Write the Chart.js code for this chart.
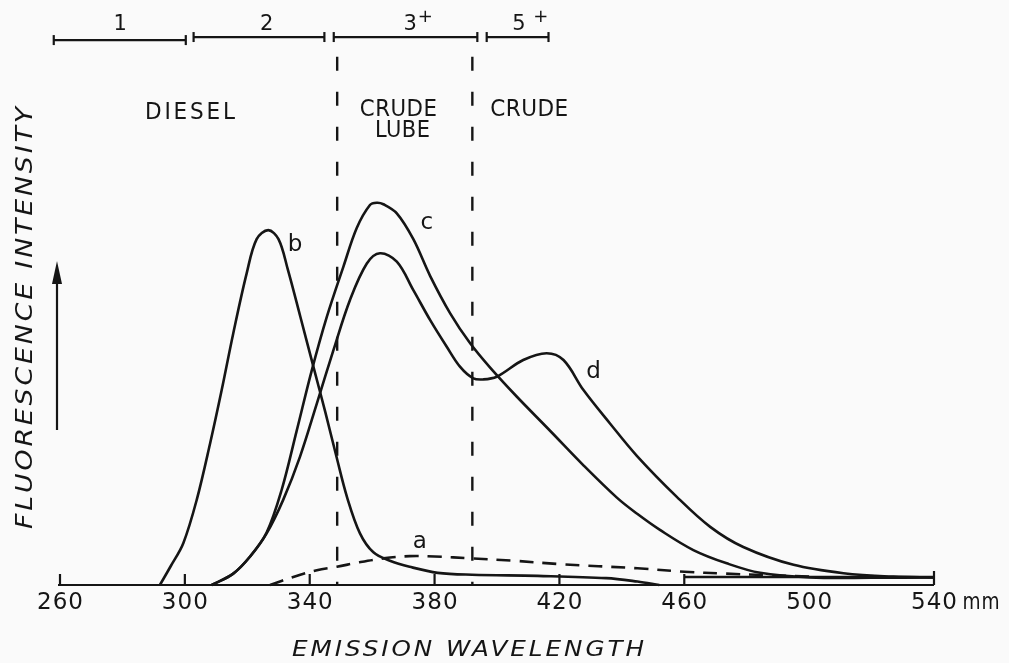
<!DOCTYPE html>
<html>
<head>
<meta charset="utf-8">
<title>Fluorescence emission spectra</title>
<script src="https://cdn.jsdelivr.net/npm/chart.js@4.4.1/dist/chart.umd.min.js"></script>
<style>
  html, body { margin: 0; padding: 0; background: #fafafa; }
  #wrap { width: 1009px; height: 663px; }
</style>
</head>
<body>
<div id="wrap"><canvas id="spectra" width="1009" height="663"></canvas></div>
<script>
// emission wavelength (nm) / relative intensity for each trace
const waveA = [327.3, 335, 342.3, 348.7, 356, 363.6, 372, 380, 392, 405, 420, 445, 460, 473, 486, 500];
const intA  = [0, 2.2, 3.9, 4.8, 6, 7, 7.6, 7.5, 7, 6.4, 5.5, 4.4, 3.5, 3.0, 2.6, 2.2];

const waveB = [292, 295.5, 299.5, 303.8, 308.1, 311.8, 315.5, 319.8, 323, 326.7, 330, 333, 337, 341.2, 345, 348.5, 352, 356.1, 360.4, 365.7, 372, 381, 392, 413, 435, 445, 452];
const intB  = [0, 5, 11, 22.4, 37.3, 51.3, 66.2, 82, 91, 93.4, 91, 83, 70.6, 57.4, 45.5, 34, 23, 13.6, 8.6, 6.4, 4.8, 3.2, 2.7, 2.4, 1.8, 0.9, 0];

const waveC = [308.6, 315.5, 320.9, 326.2, 331, 335.8, 340.6, 345.5, 350.8, 355.1, 359.3, 361.5, 363.6, 367.9, 373.2, 378.6, 385, 391.4, 397.8, 406.3, 417, 427.7, 438.4, 444.8, 452.2, 462.9, 473.6, 484.3, 500.3, 520, 540];
const intC  = [0, 3, 7.5, 13.8, 25, 40.5, 56.3, 70.6, 83.8, 94, 100, 100.6, 100.2, 97.8, 91, 81.3, 71.5, 63.6, 57.2, 49.6, 40.6, 31.5, 23, 18.8, 14.5, 9.2, 5.7, 3.2, 2, 1.9, 2];

const waveD = [308.6, 315.5, 320.9, 326.2, 331.5, 336.9, 342.3, 347.6, 352.9, 358.3, 362.5, 367.9, 373.2, 378.6, 383.9, 388.2, 392.4, 395.6, 399.9, 408.4, 415.9, 421.3, 427.7, 436.2, 444.8, 457.6, 468.3, 478.9, 495, 511, 527, 540];
const intD  = [0, 3, 7.5, 13.6, 22.4, 33.8, 47.8, 61.8, 75, 84.6, 87.3, 85.1, 77.6, 69.7, 62.7, 57.4, 54.4, 54.1, 54.8, 59.2, 61, 59.2, 51.3, 42.5, 34, 23.2, 15.3, 10, 5.3, 3.1, 2.2, 2];

// instrument baseline under the long-wave tails
const waveBase = [460, 540];
const intBase  = [2.1, 2.1];

// product class boundaries (dashed verticals)
const dividers = [348.8, 392.1];

// aromatic ring-number ranges along the top
const ringStart = [258, 302.8, 347.7, 396.7];
const ringEnd   = [300.3, 344.7, 393.7, 416.5];
const ringLevel = [143.4, 144.2, 144.2, 144.2];
const ringNum   = ['1', '2', '3', '5 '];
const ringSup   = ['', '', '+', '+'];

// x axis ticks
const tickValues = [260, 300, 340, 380, 420, 460, 500, 540];
const tickLabels = ['260', '300', '340', '380', '420', '460', '500', '540'];

const INK = '#151515';
const FONT = '"DejaVu Sans", "Liberation Sans", sans-serif';

function pts(xs, ys) {
  return xs.map((x, i) => ({ x: x, y: ys[i] }));
}

function curve(label, xs, ys, dash) {
  return {
    label: label,
    data: pts(xs, ys),
    borderColor: INK,
    borderWidth: 2.6,
    borderDash: dash || [],
    pointRadius: 0,
    fill: false,
    tension: 0.35,
    clip: false
  };
}

const datasets = [
  curve('a', waveA, intA, [14, 9]),
  curve('b', waveB, intB),
  curve('c', waveC, intC),
  curve('d', waveD, intD),
  curve('baseline', waveBase, intBase)
];

// drawn top-down so the dash pattern starts at the upper end
dividers.forEach(function(w) {
  datasets.push({
    label: 'divider',
    data: [{ x: w, y: 139 }, { x: w, y: 0 }],
    borderColor: INK,
    borderWidth: 2.4,
    borderDash: [14, 21],
    pointRadius: 0,
    tension: 0,
    clip: false
  });
});

ringStart.forEach(function(s, i) {
  datasets.push({
    label: 'ring ' + ringNum[i],
    data: [{ x: s, y: ringLevel[i] }, { x: ringEnd[i], y: ringLevel[i] }],
    borderColor: INK,
    borderWidth: 2.2,
    pointStyle: 'line',
    rotation: 90,
    pointRadius: 5,
    pointBorderColor: INK,
    pointBorderWidth: 2.2,
    tension: 0,
    clip: false
  });
});

// text placed in data coordinates
const notes = [
  { text: 'DIESEL', x: 301.65, y: 124.1, width: 90, spacing: 3 },
  { text: 'CRUDE', x: 368.4, y: 125.1, width: 77, spacing: 0.5 },
  { text: 'LUBE', x: 369.7, y: 119.4, width: 55, spacing: 0.5 },
  { text: 'CRUDE', x: 410.3, y: 125.1, width: 78, spacing: 0.5 }
];
const curveTags = [
  { text: 'a', x: 375.3, y: 11.4 },
  { text: 'b', x: 335.3, y: 89.5 },
  { text: 'c', x: 377.5, y: 95.2 },
  { text: 'd', x: 430.9, y: 56.1 }
];
const ringTagX = [279.3, 326.2, 374.6, 410.5];

// draw text with some tracking, then squeeze/stretch it to the given width
function spreadText(ctx, text, cx, cy, width, spacing) {
  ctx.save();
  ctx.letterSpacing = spacing + 'px';
  ctx.textAlign = 'left';
  const w = ctx.measureText(text).width - spacing;
  ctx.translate(cx - width / 2, cy);
  ctx.scale(width / w, 1);
  ctx.fillText(text, 0, 0);
  ctx.restore();
}

const decor = {
  id: 'decor',
  beforeDraw(chart) {
    const ctx = chart.ctx;
    ctx.save();
    ctx.fillStyle = '#fafafa';
    ctx.fillRect(0, 0, chart.width, chart.height);
    ctx.restore();
  },
  afterDatasetsDraw(chart) {
    const ctx = chart.ctx;
    const xs = chart.scales.x;
    const ys = chart.scales.y;
    const y0 = ys.getPixelForValue(0);

    ctx.save();
    ctx.strokeStyle = INK;
    ctx.fillStyle = INK;
    ctx.lineWidth = 2.2;

    // axis line and upward ticks
    ctx.beginPath();
    ctx.moveTo(xs.getPixelForValue(260) - 2, y0);
    ctx.lineTo(xs.getPixelForValue(540), y0);
    tickValues.forEach(function(v) {
      if (v === 500) return;
      const px = xs.getPixelForValue(v);
      ctx.moveTo(px, y0);
      ctx.lineTo(px, y0 - (v === 540 ? 14 : 11));
    });
    ctx.stroke();

    // tick labels
    ctx.font = '23px ' + FONT;
    ctx.textBaseline = 'middle';
    tickLabels.forEach(function(t, i) {
      const px = xs.getPixelForValue(tickValues[i]);
      spreadText(ctx, t, px, 603, 46, 1);
    });
    spreadText(ctx, 'mm', xs.getPixelForValue(540) + 47, 603, 37, 1);

    // axis titles
    ctx.font = 'italic 21px ' + FONT;
    spreadText(ctx, 'EMISSION WAVELENGTH', 468, 651, 352, 2.5);
    ctx.save();
    ctx.translate(26, 318);
    ctx.rotate(-Math.PI / 2);
    ctx.font = 'italic 23px ' + FONT;
    spreadText(ctx, 'FLUORESCENCE INTENSITY', 0, 0, 422, 2.5);
    ctx.restore();

    // intensity arrow
    ctx.beginPath();
    ctx.moveTo(57, 430);
    ctx.lineTo(57, 276);
    ctx.stroke();
    ctx.beginPath();
    ctx.moveTo(57, 261);
    ctx.lineTo(52, 284);
    ctx.lineTo(62, 284);
    ctx.closePath();
    ctx.fill();

    // class names
    ctx.font = '23px ' + FONT;
    notes.forEach(function(n) {
      spreadText(ctx, n.text, xs.getPixelForValue(n.x), ys.getPixelForValue(n.y), n.width, n.spacing);
    });

    // curve letters
    ctx.font = '23px ' + FONT;
    ctx.textAlign = 'center';
    curveTags.forEach(function(n) {
      ctx.fillText(n.text, xs.getPixelForValue(n.x), ys.getPixelForValue(n.y));
    });

    // ring numbers with raised plus
    const ry = ys.getPixelForValue(147.6);
    ringNum.forEach(function(t, i) {
      const cx = xs.getPixelForValue(ringTagX[i]);
      ctx.font = '21px ' + FONT;
      const w = ctx.measureText(t).width;
      ctx.font = '18px ' + FONT;
      const ws = ringSup[i] ? ctx.measureText(ringSup[i]).width : 0;
      const left = cx - (w + ws) / 2;
      ctx.textAlign = 'left';
      ctx.font = '21px ' + FONT;
      ctx.fillText(t, left, ry);
      if (ringSup[i]) {
        ctx.font = '18px ' + FONT;
        ctx.fillText(ringSup[i], left + w + 1, ry - 7);
      }
    });

    ctx.restore();
  }
};

new Chart(document.getElementById('spectra'), {
  type: 'line',
  data: { datasets: datasets },
  options: {
    responsive: false,
    animation: false,
    layout: { padding: { left: 60, right: 75, top: 15, bottom: 78 } },
    scales: {
      x: { type: 'linear', min: 260, max: 540, display: false },
      y: { type: 'linear', min: 0, max: 150, display: false }
    },
    plugins: {
      legend: { display: false },
      tooltip: { enabled: false }
    }
  },
  plugins: [decor]
});
</script>
</body>
</html>
